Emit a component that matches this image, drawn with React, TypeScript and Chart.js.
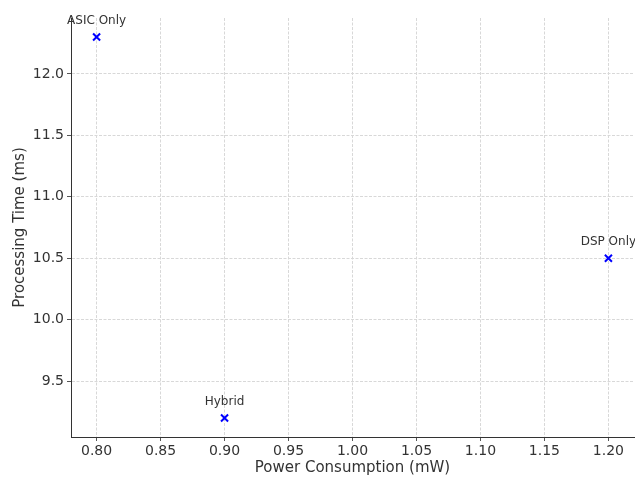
import React, { useEffect, useRef } from "react";
import { Chart, registerables } from "chart.js";

Chart.register(...registerables);

const configs = ["ASIC Only", "DSP Only", "Hybrid"];
const powerMW = [0.8, 1.2, 0.9];
const procTimeMs = [12.3, 10.5, 9.2];
const xTicks = [0.8, 0.85, 0.9, 0.95, 1.0, 1.05, 1.1, 1.15, 1.2];
const yTicks = [9.5, 10.0, 10.5, 11.0, 11.5, 12.0];
const xLabel = "Power Consumption (mW)";
const yLabel = "Processing Time (ms)";

const FONT = '"DejaVu Sans", "Liberation Sans", sans-serif';

const labelPlugin = {
  id: "pointLabels",
  afterDatasetsDraw(chart: any) {
    const ctx = chart.ctx;
    const meta = chart.getDatasetMeta(0);
    ctx.save();
    ctx.font = `12px ${FONT}`;
    ctx.fillStyle = "#333333";
    ctx.textAlign = "center";
    ctx.textBaseline = "alphabetic";
    meta.data.forEach((pt: any, i: number) => {
      ctx.fillText(configs[i], pt.x, pt.y - 13);
    });
    ctx.restore();
  },
};

const zeroPad = (s: any) => {
  s.paddingLeft = 0;
  s.paddingRight = 0;
  s.paddingTop = 0;
  s.paddingBottom = 0;
};

export default function App() {
  const ref = useRef<HTMLCanvasElement | null>(null);
  useEffect(() => {
    if (!ref.current) return;
    const chart = new Chart(ref.current, {
      type: "scatter",
      data: {
        datasets: [
          {
            label: "Configurations",
            data: powerMW.map((x, i) => ({ x, y: procTimeMs[i] })),
            pointStyle: "crossRot",
            pointRadius: 5,
            pointHoverRadius: 5,
            borderColor: "#0000ff",
            backgroundColor: "#0000ff",
            pointBorderWidth: 2,
            clip: false as any,
          },
        ],
      },
      options: {
        animation: false,
        responsive: false,
        events: [],
        layout: { autoPadding: false, padding: { top: 18, right: 1, left: 0, bottom: 0 } },
        plugins: { legend: { display: false }, tooltip: { enabled: false } },
        scales: {
          x: {
            type: "linear",
            min: 0.78,
            max: 1.22,
            afterBuildTicks: (s: any) => {
              s.ticks = xTicks.map((v) => ({ value: v }));
            },
            afterFit: (s: any) => {
              s.height = 41;
              zeroPad(s);
            },
            ticks: {
              callback: (v: any) => Number(v).toFixed(2),
              font: { family: FONT, size: 14 },
              color: "#333333",
              padding: 2,
              maxRotation: 0,
              autoSkip: false,
            },
            grid: {
              color: "#d8d8d8",
              lineWidth: 1,
              tickLength: 4,
              tickColor: "#555555",
              tickWidth: 1,
            },
            border: { display: true, color: "#333333", width: 1, dash: [3, 1.5] },
            title: {
              display: true,
              text: xLabel,
              font: { family: FONT, size: 15 },
              color: "#333333",
              padding: { top: 0, bottom: 1 },
            },
          },
          y: {
            type: "linear",
            min: 9.045,
            max: 12.455,
            afterBuildTicks: (s: any) => {
              s.ticks = yTicks.map((v) => ({ value: v }));
            },
            afterFit: (s: any) => {
              s.width = 71;
              zeroPad(s);
            },
            ticks: {
              callback: (v: any) => Number(v).toFixed(1),
              font: { family: FONT, size: 14 },
              color: "#333333",
              padding: 3,
              autoSkip: false,
            },
            grid: {
              color: "#d8d8d8",
              lineWidth: 1,
              tickLength: 4,
              tickColor: "#555555",
              tickWidth: 1,
            },
            border: { display: true, color: "#333333", width: 1, dash: [3, 1.5] },
            title: {
              display: true,
              text: yLabel,
              font: { family: FONT, size: 15 },
              color: "#333333",
              padding: { top: 11, bottom: 0 },
            },
          },
        },
      },
      plugins: [labelPlugin],
    });
    return () => chart.destroy();
  }, []);

  return (
    <div style={{ position: "fixed", left: 0, top: 0, width: 635, height: 478, background: "#fff" }}>
      <canvas ref={ref} width={635} height={478} style={{ width: 635, height: 478 }} />
    </div>
  );
}
